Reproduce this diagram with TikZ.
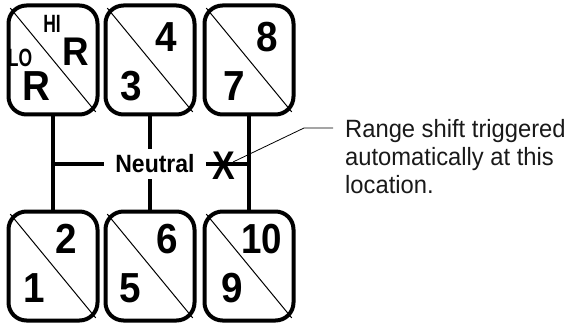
\documentclass[tikz,border=0pt]{standalone}
\usepackage{fontspec}
\setmainfont{Liberation Sans}
\usetikzlibrary{calc}

\begin{document}
\begin{tikzpicture}[x=1pt,y=-1pt,
    gatebox/.style={
      draw,
      line width=4pt,
      rounded corners=18pt,
      minimum width=89pt,
      minimum height=109pt
    },
    split/.style={
      line width=1pt,
      shorten <=6pt,
      shorten >=6pt
    },
    rail/.style={line width=4.5pt},
    digit/.style={
      font=\fontsize{42}{42}\selectfont\bfseries,
      inner sep=0pt,
      xscale=0.92
    },
    tag/.style={
      font=\fontsize{25}{25}\selectfont\bfseries,
      inner sep=0pt,
      xscale=0.7
    }
  ]
  \useasboundingbox (0,0) rectangle (565,326);
  % gate boxes
  \node[gatebox] (t1) at (53,60) {};
  \node[gatebox] (t2) at (150,60) {};
  \node[gatebox] (t3) at (249,60) {};
  \node[gatebox] (b1) at (53,266) {};
  \node[gatebox] (b2) at (150,266) {};
  \node[gatebox] (b3) at (249,266) {};
  \foreach \g in {t1,t2,t3,b1,b2,b3}
    \draw[split] (\g.north west) -- (\g.south east);
  % gear numbers
  \node[tag] (hi) at (52,24) {HI};
  \node[digit,font=\fontsize{40}{40}\selectfont\bfseries] (rhi) at (76,52) {R};
  \node[tag] (lo) at (20,58) {LO};
  \node[digit] (rlo) at (36,86) {R};
  \node[digit] (g4) at (166,37) {4};
  \node[digit] (g3) at (131,86) {3};
  \node[digit] (g8) at (267,37) {8};
  \node[digit] (g7) at (234,86) {7};
  \node[digit] (g2) at (66,239) {2};
  \node[digit] (g1) at (34,288) {1};
  \node[digit] (g6) at (167,239) {6};
  \node[digit] (g5) at (130,288) {5};
  \node[digit,xscale=0.95] (g10) at (262,239) {10};
  \node[digit] (g9) at (232,288) {9};
  % shift pattern
  \node[font=\fontsize{25}{25}\selectfont\bfseries,xscale=0.92,
        inner xsep=12pt,inner ysep=6pt] (neutral) at (155,164) {Neutral};
  \draw[rail] (t1.south) -- (b1.north);
  \draw[rail] (t3.south) -- (b3.north);
  \draw[rail] (t2.south) -- (t2.south |- neutral.north);
  \draw[rail] (b2.north |- neutral.south) -- (b2.north);
  \draw[rail] (t1.south |- neutral) -- (neutral.west);
  \draw[rail] (neutral.east) -- (t3.south |- neutral);
  \node[font=\fontsize{40}{40}\selectfont\bfseries,inner sep=0pt,xscale=0.85]
    (xmark) at (224,166) {X};
  % note
  \node[font=\fontsize{25}{28}\selectfont,xscale=0.95,anchor=west,
        align=left,inner sep=0pt,text=black!90] (note) at (345,157)
    {Range shift triggered\\automatically at this\\location.};
  \coordinate (tip) at (233,162);
  \coordinate (bend) at (304,128);
  \draw[line width=0.8pt] (tip) -- (bend) -- (bend -| 333,0);
\end{tikzpicture}
\end{document}
